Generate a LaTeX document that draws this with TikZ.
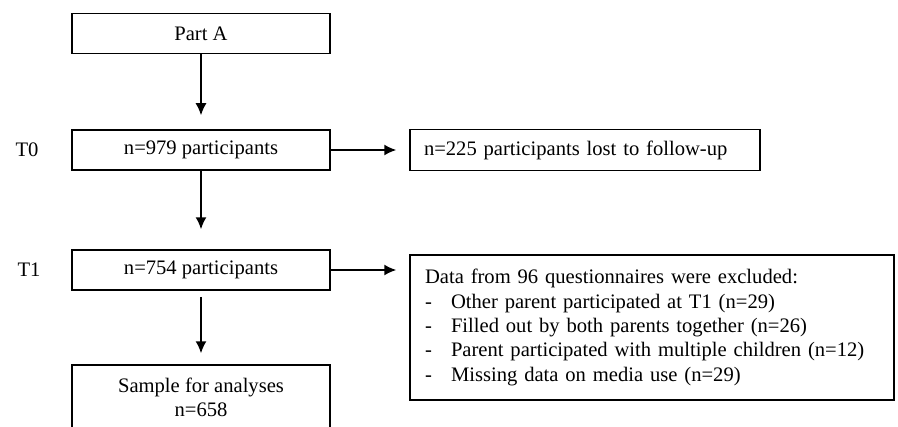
\documentclass[tikz,border=0pt]{standalone}
\usepackage{fontspec}
\setmainfont{Liberation Serif}
\usepackage{tikz}
\usetikzlibrary{positioning,arrows,arrows.meta}
\tikzstyle{box}=[draw, line width=0.75pt, minimum width=129pt, minimum height=20pt, inner sep=2pt]
\tikzstyle{lostbox}=[draw, line width=0.75pt, minimum width=175pt, minimum height=20.5pt, text width=161pt, inner xsep=7pt, align=left]
\tikzstyle{exclbox}=[draw, line width=0.75pt, minimum height=72.5pt, text width=227pt, inner xsep=7.5pt, align=left]
\tikzstyle{flow}=[->, line width=0.75pt, shorten >=7pt]
\newcommand{\itm}[1]{\makebox[13pt][l]{-}#1}

\begin{document}
\begin{tikzpicture}[node distance=2cm,auto,>={Latex[length=6pt,width=5.5pt]},font=\fontsize{10.3pt}{12.2pt}\selectfont]
\useasboundingbox (0,0) rectangle (449pt,-213.5pt);
  \node[box] at (100.5pt,-16.75pt) (parta) {Part A};

  \node[box, below of = parta, node distance = 58.25pt] (t0box) {n=979 participants};
  \node[left of = t0box, node distance = 87pt] (t0) {T0};
  \draw[flow] (parta) -- (t0box);

  \node[lostbox, right of = t0box, node distance = 192pt] (lost) {n=225 participants lost to follow-up};
  \draw[->, line width = 0.75pt, shorten >=6.5pt] (t0box) -- (lost);

  \node[box, below of = t0box, node distance = 60pt] (t1box) {n=754 participants};
  \node[left of = t1box, node distance = 86pt] (t1) {T1};
  \draw[flow, shorten >=10pt] (t0box) -- (t1box);

  \node[exclbox, right of = t1box, node distance = 225.5pt, yshift = -28.75pt] (excl) {Data from 96 questionnaires were excluded:\\
    \itm{Other parent participated at T1 (n=29)}\\
    \itm{Filled out by both parents together (n=26)}\\
    \itm{Parent participated with multiple children (n=12)}\\
    \itm{Missing data on media use (n=29)}};
  \draw[->, line width = 0.75pt, shorten >=6.5pt] (t1box) -- (t1box -| excl.west);

  \node[box, minimum height = 32.5pt, align=center, below of = t1box, node distance = 63.75pt] (sample) {Sample for analyses\\n=658};
  \draw[flow, shorten <=3pt, shorten >=5.5pt] (t1box) -- (sample);
\end{tikzpicture}
\end{document}
